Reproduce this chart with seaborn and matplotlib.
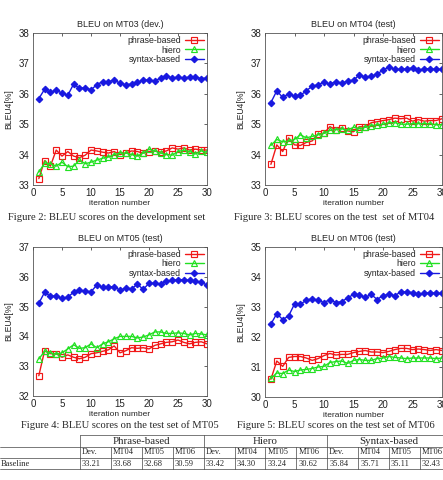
import numpy as np
import pandas as pd
import matplotlib.pyplot as plt
import seaborn as sns
from matplotlib.lines import Line2D

sns.set_style("white")
plt.rcParams['font.family'] = ['Liberation Sans', 'DejaVu Sans']

iterations = list(range(1, 31))

# MT03 (dev.)
mt03_phrase = [33.21, 33.80, 33.62, 34.15, 33.95, 34.10, 33.95, 33.90, 33.98, 34.15,
               34.12, 34.08, 34.05, 34.10, 34.00, 34.05, 34.12, 34.10, 34.05, 34.10,
               34.12, 34.08, 34.12, 34.22, 34.18, 34.22, 34.15, 34.18, 34.15, 34.15]
mt03_hiero = [33.42, 33.72, 33.70, 33.62, 33.75, 33.60, 33.62, 33.82, 33.70, 33.75,
              33.82, 33.88, 33.92, 34.00, 34.05, 34.05, 34.00, 33.95, 34.05, 34.18,
              34.12, 34.05, 34.00, 33.98, 34.10, 34.15, 34.10, 34.02, 34.12, 34.08]
mt03_syntax = [35.84, 36.15, 36.05, 36.12, 36.02, 35.95, 36.32, 36.18, 36.20, 36.13,
               36.30, 36.40, 36.40, 36.45, 36.35, 36.30, 36.32, 36.38, 36.45, 36.45,
               36.42, 36.52, 36.60, 36.52, 36.55, 36.52, 36.55, 36.55, 36.50, 36.52]

# MT04 (test)
mt04_phrase = [33.68, 34.32, 34.10, 34.55, 34.32, 34.30, 34.40, 34.45, 34.68, 34.70,
               34.92, 34.82, 34.88, 34.78, 34.75, 34.92, 34.90, 35.05, 35.08, 35.12,
               35.15, 35.20, 35.18, 35.20, 35.10, 35.15, 35.10, 35.12, 35.12, 35.18]
mt04_hiero = [34.30, 34.50, 34.42, 34.45, 34.50, 34.65, 34.55, 34.60, 34.65, 34.70,
              34.80, 34.82, 34.85, 34.80, 34.90, 34.85, 34.90, 34.95, 34.98, 35.00,
              35.05, 35.05, 35.00, 35.00, 35.02, 35.02, 35.02, 35.02, 34.98, 34.98]
mt04_syntax = [35.71, 36.10, 35.88, 36.00, 35.92, 35.95, 36.10, 36.25, 36.30, 36.38,
               36.32, 36.40, 36.35, 36.42, 36.45, 36.62, 36.55, 36.58, 36.65, 36.78,
               36.88, 36.80, 36.80, 36.82, 36.85, 36.78, 36.82, 36.82, 36.80, 36.80]

# MT05 (test)
mt05_phrase = [32.68, 33.52, 33.42, 33.42, 33.30, 33.38, 33.30, 33.25, 33.30, 33.42,
               33.45, 33.50, 33.55, 33.68, 33.45, 33.52, 33.62, 33.60, 33.62, 33.58,
               33.70, 33.75, 33.80, 33.82, 33.88, 33.80, 33.75, 33.80, 33.82, 33.75]
mt05_hiero = [33.24, 33.50, 33.45, 33.40, 33.45, 33.58, 33.72, 33.60, 33.62, 33.75,
              33.62, 33.75, 33.82, 33.92, 34.00, 34.00, 34.00, 33.95, 33.98, 34.05,
              34.15, 34.15, 34.10, 34.10, 34.12, 34.10, 34.05, 34.10, 34.08, 34.05]
mt05_syntax = [35.11, 35.48, 35.35, 35.35, 35.28, 35.32, 35.48, 35.55, 35.52, 35.50,
               35.72, 35.65, 35.65, 35.67, 35.55, 35.62, 35.60, 35.75, 35.58, 35.78,
               35.78, 35.75, 35.85, 35.88, 35.90, 35.90, 35.88, 35.85, 35.82, 35.72]

# MT06 (test)
mt06_phrase = [30.59, 31.20, 31.02, 31.32, 31.35, 31.35, 31.30, 31.22, 31.28, 31.38,
               31.45, 31.40, 31.42, 31.42, 31.48, 31.52, 31.55, 31.50, 31.50, 31.48,
               31.52, 31.58, 31.62, 31.62, 31.58, 31.60, 31.58, 31.55, 31.58, 31.55]
mt06_hiero = [30.62, 30.80, 30.78, 30.90, 30.85, 30.90, 30.92, 30.95, 31.00, 31.02,
              31.15, 31.18, 31.20, 31.12, 31.22, 31.25, 31.22, 31.22, 31.28, 31.30,
              31.35, 31.32, 31.30, 31.28, 31.30, 31.30, 31.30, 31.30, 31.28, 31.30]
mt06_syntax = [32.43, 32.78, 32.58, 32.70, 33.10, 33.10, 33.22, 33.28, 33.22, 33.15,
               33.25, 33.15, 33.18, 33.30, 33.42, 33.40, 33.32, 33.42, 33.25, 33.38,
               33.42, 33.38, 33.50, 33.50, 33.48, 33.42, 33.45, 33.48, 33.45, 33.45]

panel_titles = ["BLEU on MT03 (dev.)", "BLEU on MT04 (test)",
                "BLEU on MT05 (test)", "BLEU on MT06 (test)"]
panel_ylims = [(33, 38), (33, 38), (32, 37), (30, 35)]
captions = ["Figure 2: BLEU scores on the development set",
            "Figure 3: BLEU scores on the test  set of MT04",
            "Figure 4: BLEU scores on the test set of MT05",
            "Figure 5: BLEU scores on the test set of MT06"]
panel_data = [(mt03_phrase, mt03_hiero, mt03_syntax),
              (mt04_phrase, mt04_hiero, mt04_syntax),
              (mt05_phrase, mt05_hiero, mt05_syntax),
              (mt06_phrase, mt06_hiero, mt06_syntax)]

# table
table_groups = ["Phrase-based", "Hiero", "Syntax-based"]
table_sets = ["Dev.", "MT04", "MT05", "MT06"]
table_rows = ["Baseline"]
table_values = [[33.21, 33.68, 32.68, 30.59, 33.42, 34.30, 33.24, 30.62,
                 35.84, 35.71, 35.11, 32.43]]

series_style = {
    "phrase-based": dict(color="#f01818", marker="s", markerfacecolor="none"),
    "hiero": dict(color="#22e022", marker="^", markerfacecolor="none"),
    "syntax-based": dict(color="#1818e0", marker="D"),
}

W, H = 443, 480
fig = plt.figure(figsize=(W / 100, H / 100), dpi=100)

# axes boxes in pixels: left, top, right, bottom
boxes = [(33, 33, 207, 185), (265, 33, 442, 185),
         (33, 247, 207, 396), (265, 247, 442, 397)]
caption_pos = [(8, 217), (234, 217), (21, 425), (237, 425)]

for i, (l, t, r, b) in enumerate(boxes):
    ax = fig.add_axes([l / W, 1 - b / H, (r - l) / W, (b - t) / H])
    df = pd.DataFrame({"iteration": iterations,
                       "phrase-based": panel_data[i][0],
                       "hiero": panel_data[i][1],
                       "syntax-based": panel_data[i][2]})
    for name, st in series_style.items():
        sns.lineplot(data=df, x="iteration", y=name, ax=ax, label=name,
                     linewidth=1.0, markersize=3.7 if st["marker"] != "D" else 3.3,
                     markeredgewidth=0.85, markeredgecolor=st["color"], **st)
    ax.set_xlim(0, 30)
    ax.set_ylim(*panel_ylims[i])
    ax.set_xticks(range(0, 31, 5))
    ax.set_yticks(range(panel_ylims[i][0], panel_ylims[i][1] + 1))
    ax.tick_params(direction="in", top=True, right=True, length=2.5,
                   width=0.5, labelsize=7, pad=2.5, colors="#222222")
    for sp in ax.spines.values():
        sp.set_linewidth(0.6)
        sp.set_color("#555555")
    ax.set_title(panel_titles[i], fontsize=6.5, pad=4)
    ax.set_xlabel("iteration number", fontsize=6, labelpad=1)
    ax.set_ylabel("BLEU4[%]", fontsize=6.2, labelpad=4)
    ax.legend(loc="upper right", markerfirst=False, frameon=False, fontsize=6.3,
              handlelength=2.2, labelspacing=0.05, borderaxespad=0.15,
              handletextpad=0.4, borderpad=0.2)
    cx, cy = caption_pos[i]
    fig.text(cx / W, 1 - cy / H, captions[i], fontsize=7.6, va="center",
             ha="left", family=["Liberation Serif", "DejaVu Serif"])

# table drawing
serif = ["Liberation Serif", "DejaVu Serif"]
col_left = 80
col_w = 30.9
row_y = [435, 447, 458, 469]
n_cols = len(table_groups) * len(table_sets)
lc = "#444444"

def hline(y, x0, x1):
    fig.add_artist(Line2D([x0 / W, x1 / W], [1 - y / H, 1 - y / H],
                          color=lc, linewidth=0.5))

def vline(x, y0, y1):
    fig.add_artist(Line2D([x / W, x / W], [1 - y0 / H, 1 - y1 / H],
                          color=lc, linewidth=0.5))

hline(row_y[0], col_left, W)
for y in row_y[1:]:
    hline(y, 0, W)
vline(col_left, row_y[0], row_y[-1])
for g in range(1, len(table_groups)):
    vline(col_left + g * 4 * col_w, row_y[0], row_y[-1])
for c in range(1, n_cols):
    if c % 4:
        vline(col_left + c * col_w, row_y[1], row_y[-1])

for g, name in enumerate(table_groups):
    cx = col_left + (g * 4 + 2) * col_w
    fig.text(cx / W, 1 - (row_y[0] + row_y[1]) / 2 / H, name, fontsize=7.8,
             ha="center", va="center", family=serif)
for c in range(n_cols):
    x = col_left + c * col_w + 2
    fig.text(x / W, 1 - (row_y[1] + row_y[2]) / 2 / H, table_sets[c % 4],
             fontsize=6, ha="left", va="center", family=serif)
for r, label in enumerate(table_rows):
    yc = 1 - (row_y[2 + r] + row_y[3 + r]) / 2 / H
    fig.text(1 / W, yc, label, fontsize=6, ha="left", va="center", family=serif)
    for c, v in enumerate(table_values[r]):
        x = col_left + c * col_w + 2
        fig.text(x / W, yc, f"{v:.2f}", fontsize=6, ha="left", va="center",
                 family=serif)

fig.savefig("out.png", dpi=100)
